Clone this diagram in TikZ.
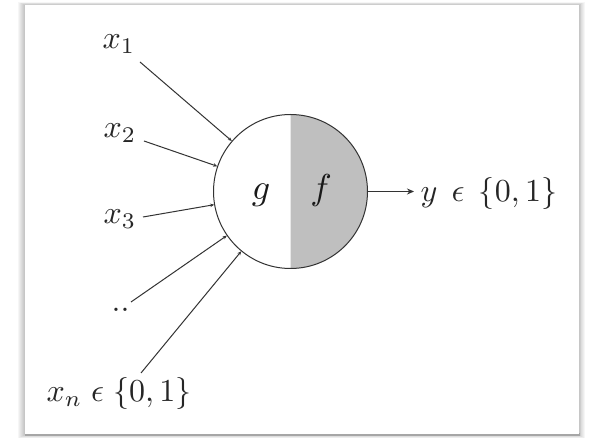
\documentclass[tikz,border=0pt]{standalone}
\usetikzlibrary{arrows.meta}
\begin{document}
\begin{tikzpicture}[x=1pt,y=-1pt,
  lbl/.style={scale=3.2, transform shape, inner sep=0pt, text=black!85},
  fn/.style={scale=3.6, transform shape, inner sep=0pt, text=black!90},
  wire/.style={line width=1pt, draw=black!80},
  inarrow/.style={wire, -{Stealth[length=4pt,width=3.5pt]}},
  outarrow/.style={wire, -{Stealth[length=7pt,width=6pt]}}]
\useasboundingbox (0,0) rectangle (590,438);
% frame with soft shadow
\foreach \i in {1,...,7}
  \fill[black,opacity=0.035] (25-\i,5-0.4*\i) rectangle (579+0.8*\i,435+0.5*\i);
\fill[black!35] (25,433) rectangle (580,436.5);
\fill[white] (25,5) rectangle (579,434);
% neuron
\coordinate (c) at (290.5,191.5);
\begin{scope}
  \clip (290.5,100) rectangle (400,300);
  \fill[gray!50] (c) circle[radius=77pt];
\end{scope}
\node[circle, wire, draw, minimum size=154pt, inner sep=0pt] (neuron) at (c) {};
\node[fn, anchor=base] (g) at (261,200) {$g$};
\node[fn, anchor=base] (f) at (321,200) {$f$};
% inputs
\node[lbl] (x1) at (119,44) {$x_1$};
\node[lbl] (x2) at (120,133) {$x_2$};
\node[lbl] (x3) at (120,219) {$x_3$};
\node[lbl, anchor=base west] (xd) at (111,312) {..};
\node[lbl, anchor=base] (xn) at (119,402) {$x_n \mathrel{\epsilon} \{0,1\}$};
\coordinate (s1) at (140,62);
\coordinate (s2) at (144,141);
\coordinate (s3) at (143,217);
\coordinate (s4) at (131,302);
\coordinate (s5) at (141,373);
\draw[inarrow] (s1) -- (neuron);
\draw[inarrow] (s2) -- (neuron);
\draw[inarrow] (s3) -- (neuron);
\draw[inarrow] (s4) -- (neuron);
\draw[inarrow] (s5) -- (neuron);
% output
\node[lbl, anchor=base west] (y) at (420,202) {$y \mathrel{\,\epsilon\,} \{0,1\}$};
\draw[outarrow, shorten >=6pt] (neuron.east) -- (y.west |- neuron.east);
\end{tikzpicture}
\end{document}
